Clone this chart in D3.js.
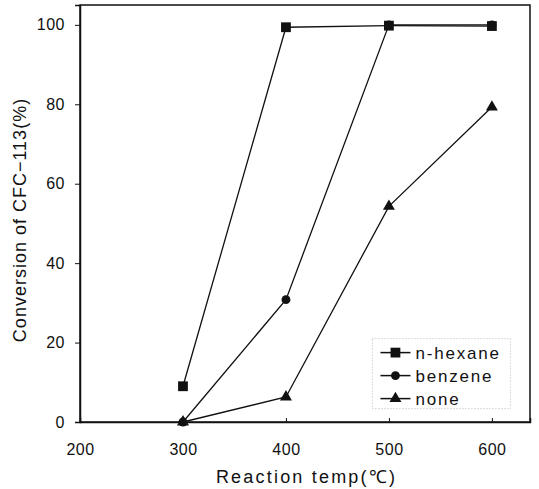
<!DOCTYPE html>
<html>
<head>
<meta charset="utf-8">
<script src="https://cdn.jsdelivr.net/npm/d3@7"></script>
<style>
  html, body { margin: 0; padding: 0; background: #fff; }
  svg { display: block; font-family: "Liberation Sans", Arial, sans-serif; }
</style>
</head>
<body>
<script>
// reaction temperature (°C)
const temps = [300, 400, 500, 600];
const hexane = [9, 99.4, 99.8, 99.7];
const benzene = [0, 30.8, 100, 100];
const none = [0, 6.3, 54.3, 79.3];
const xTicks = [200, 300, 400, 500, 600];
const yTicks = [0, 20, 40, 60, 80, 100];

const series = [
  { name: 'benzene', values: benzene, symbol: d3.symbolCircle, size: 62 },
  { name: 'none', values: none, symbol: d3.symbolTriangle, size: 62 },
  { name: 'n-hexane', values: hexane, symbol: d3.symbolSquare, size: 96 }
];
const legendOrder = ['n-hexane', 'benzene', 'none'];

const width = 539;
const height = 489;
const margin = { top: 5, right: 9, bottom: 67, left: 80 };

const svg = d3.select('body')
  .append('svg')
  .attr('width', width)
  .attr('height', height);

const innerWidth = width - margin.left - margin.right;
const innerHeight = height - margin.top - margin.bottom;

const x = d3.scaleLinear().domain([200, 637]).range([0, innerWidth]);
const y = d3.scaleLinear().domain([0, 105]).range([innerHeight, 0]);

const chart = svg.append('g')
  .attr('transform', `translate(${margin.left},${margin.top})`);

// frame
chart.append('rect')
  .attr('width', innerWidth)
  .attr('height', innerHeight)
  .attr('fill', 'none')
  .attr('stroke', '#111')
  .attr('stroke-width', 1.5);

const xAxis = chart.append('g')
  .attr('transform', `translate(0,${innerHeight})`)
  .call(d3.axisBottom(x).tickValues(xTicks).tickSize(-4).tickPadding(22));
const yAxis = chart.append('g')
  .call(d3.axisLeft(y).tickValues(yTicks).tickSize(5).tickPadding(10));

[xAxis, yAxis].forEach(ax => {
  ax.select('.domain').attr('stroke', '#111').attr('stroke-width', 1.5);
  ax.selectAll('.tick line').attr('stroke', '#111');
  ax.selectAll('.tick text')
    .attr('font-size', 16)
    .attr('letter-spacing', 0.5)
    .attr('fill', '#111')
    .attr('font-family', '"Liberation Sans", Arial, sans-serif');
});

const line = d3.line()
  .x((d, i) => x(temps[i]))
  .y(d => y(d));

series.forEach(s => {
  chart.append('path')
    .datum(s.values)
    .attr('d', line)
    .attr('fill', 'none')
    .attr('stroke', '#111')
    .attr('stroke-width', 1.3);
});

series.forEach(s => {
  chart.selectAll(null)
    .data(s.values)
    .enter()
    .append('path')
    .attr('d', d3.symbol().type(s.symbol).size(s.size))
    .attr('transform', (d, i) => `translate(${x(temps[i])},${y(d)})`)
    .attr('fill', '#111');
});

// legend
const legend = chart.append('g')
  .attr('transform', `translate(${x(484)},${y(21)})`);
legend.append('rect')
  .attr('width', 138)
  .attr('height', 70)
  .attr('fill', 'none')
  .attr('stroke', '#aaa')
  .attr('stroke-width', 0.8)
  .attr('stroke-dasharray', '1 2');

legendOrder.forEach((name, i) => {
  const s = series.find(d => d.name === name);
  const row = legend.append('g')
    .attr('transform', `translate(0,${14 + i * 23})`);
  row.append('line')
    .attr('x1', 8).attr('x2', 38)
    .attr('stroke', '#111').attr('stroke-width', 1.5);
  row.append('path')
    .attr('d', d3.symbol().type(s.symbol).size(s.size))
    .attr('transform', 'translate(23,0)')
    .attr('fill', '#111');
  row.append('text')
    .attr('x', 43)
    .attr('y', 6)
    .attr('font-size', 17)
    .attr('letter-spacing', 1.8)
    .attr('fill', '#111')
    .text(name);
});

svg.append('text')
  .attr('x', margin.left + x(420))
  .attr('y', 483)
  .attr('text-anchor', 'middle')
  .attr('font-size', 18)
  .attr('letter-spacing', 2.2)
  .attr('fill', '#111')
  .text('Reaction temp(℃)');

svg.append('text')
  .attr('transform', 'rotate(-90)')
  .attr('x', -220)
  .attr('y', 26)
  .attr('text-anchor', 'middle')
  .attr('font-size', 18)
  .attr('letter-spacing', 1)
  .attr('fill', '#111')
  .text('Conversion of CFC−113(%)');
</script>
</body>
</html>
